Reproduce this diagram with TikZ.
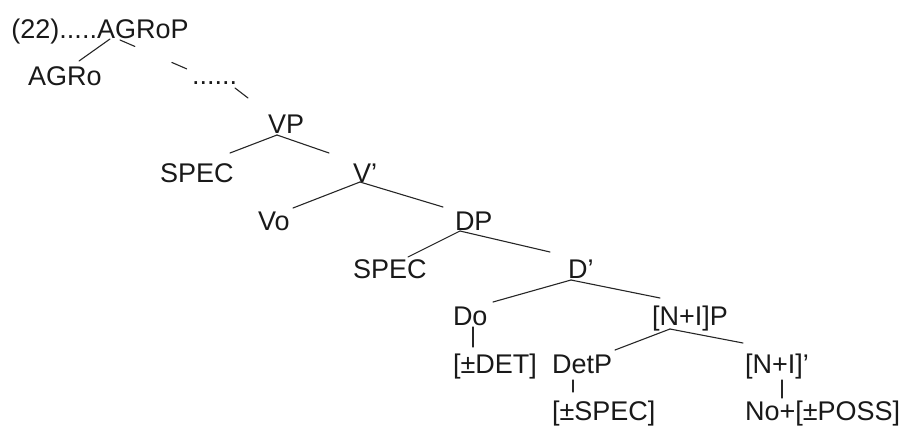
\documentclass[tikz,border=0pt]{standalone}
\usepackage{fontspec}
\setmainfont{Liberation Sans}
\usetikzlibrary{calc}

\tikzset{
  lbl/.style={inner sep=0pt, outer sep=0pt, anchor=base west, text=black!90},
  branch/.style={line width=1.1pt, draw=black!85, line cap=round},
  broken/.style={branch, dash pattern=on 16.2pt off 40.3pt}
}

\begin{document}
\begin{tikzpicture}[x=1pt, y=-1pt, font=\fontsize{27}{32}\selectfont]
  \useasboundingbox (0,0) rectangle (905,426);

  % labels of the tree
  \node[lbl] (agrop) at (97,38) {AGRoP};
  \node[lbl, anchor=base east] (ex) at (agrop.base west) {(22).....};
  \node[lbl] (agro)  at (28,85)  {AGRo};
  \node[lbl] (dots)  at (192,84) {......};
  \node[lbl] (vp)    at (268,133) {VP};
  \node[lbl] (spec1) at (160,182) {SPEC};
  \node[lbl] (vbar)  at (353,182) {V’};
  \node[lbl] (vo)    at (258,230) {Vo};
  \node[lbl] (dp)    at (455,230) {DP};
  \node[lbl] (spec2) at (353,278) {SPEC};
  \node[lbl] (dbar)  at (568,278) {D’};
  \node[lbl] (do)    at (453,325) {Do};
  \node[lbl] (nip)   at (652,325) {[N+I]P};
  \node[lbl] (det)   at (453,373) {[±DET]};
  \node[lbl] (detp)  at (552,373) {DetP};
  \node[lbl] (nibar) at (745,373) {[N+I]’};
  \node[lbl] (specf) at (552,420) {[±SPEC]};
  \node[lbl] (poss)  at (745,420) {No+[±POSS]};

  % AGRoP and its branches
  \draw[branch] ($(agrop.base west)+(13,1)$) -- ($(agro.base west)+(51,-24)$);
  \draw[broken] ($(agrop.base west)+(23,2)$) -- ($(dots.base west)+(-5,-15)$);
  \draw[branch] ($(dots.base west)+(43,4)$) -- ($(vp.base west)+(-20,-35)$);

  % VP
  \draw[branch] ($(vp.base west)+(9,2)$) -- ($(spec1.base west)+(70,-29)$);
  \draw[branch] ($(vp.base west)+(9,2)$) -- ($(vbar.base west)+(-24,-29)$);

  % V'
  \draw[branch] ($(vbar.base west)+(7,0)$) -- ($(vo.base west)+(35,-22)$);
  \draw[branch] ($(vbar.base west)+(7,0)$) -- ($(dp.base west)+(-12,-23)$);

  % DP
  \draw[branch] ($(dp.base west)+(5,1)$) -- ($(spec2.base west)+(55,-21)$);
  \draw[branch] ($(dp.base west)+(5,1)$) -- ($(dbar.base west)+(-18,-26)$);

  % D'
  \draw[branch] ($(dbar.base west)+(3,2)$) -- ($(do.base west)+(40,-23)$);
  \draw[branch] ($(dbar.base west)+(3,2)$) -- ($(nip.base west)+(8,-27)$);

  % Do
  \draw[branch] ($(do.base west)+(20,2)$) -- ($(det.base west)+(20,-26)$);

  % [N+I]P
  \draw[branch] ($(nip.base west)+(18,4)$) -- ($(detp.base west)+(63,-23)$);
  \draw[branch] ($(nip.base west)+(18,4)$) -- ($(nibar.base west)+(-2,-30)$);

  % DetP and [N+I]'
  \draw[branch] ($(detp.base west)+(21,7)$) -- ($(specf.base west)+(21,-28)$);
  \draw[branch] ($(nibar.base west)+(37,7)$) -- ($(poss.base west)+(37,-22)$);
\end{tikzpicture}
\end{document}
